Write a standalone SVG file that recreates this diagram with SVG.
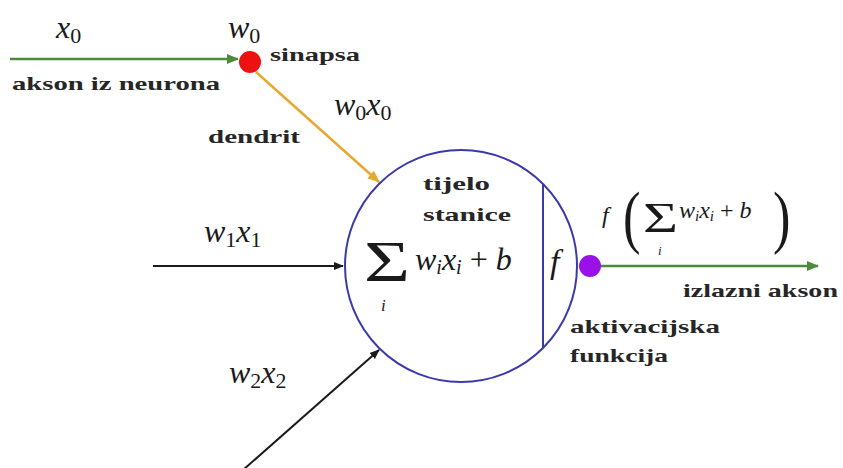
<svg xmlns="http://www.w3.org/2000/svg" width="843" height="468" viewBox="0 0 843 468">
<style>
.lbl{font-weight:bold;fill:#262626;font-size:19px}
.m{font-style:italic;fill:#1a1a1a}
.r{font-style:normal;fill:#1a1a1a}
.k{stroke:#1a1a1a;stroke-width:2;fill:none}
.g{stroke:#4a8a3a;stroke-width:2.5;fill:none}
.o{stroke:#e8a830;stroke-width:2.5;fill:none}
</style>
<defs>
<marker id="ak" viewBox="0 0 10 10" refX="9" refY="5" markerWidth="5" markerHeight="5" orient="auto" markerUnits="strokeWidth"><path d="M0,1 L10,5 L0,9 z" fill="#1a1a1a"/></marker>
<marker id="ag" viewBox="0 0 10 10" refX="9" refY="5" markerWidth="5" markerHeight="5" orient="auto" markerUnits="strokeWidth"><path d="M0,1 L10,5 L0,9 z" fill="#4a8a3a"/></marker>
<marker id="ao" viewBox="0 0 10 10" refX="9" refY="5" markerWidth="5" markerHeight="5" orient="auto" markerUnits="strokeWidth"><path d="M0,1 L10,5 L0,9 z" fill="#e8a830"/></marker>
</defs>
<rect width="843" height="468" fill="#ffffff"/>
<g id="connectors">
<line class="g" x1="10" y1="59" x2="238" y2="59" marker-end="url(#ag)"/>
<line class="o" x1="256" y1="72" x2="379" y2="182" marker-end="url(#ao)"/>
<line class="k" x1="153" y1="266" x2="343" y2="266" marker-end="url(#ak)"/>
<line class="k" x1="243" y1="470" x2="379" y2="350" marker-end="url(#ak)"/>
<line class="g" x1="600" y1="266" x2="818" y2="266" marker-end="url(#ag)"/>
</g>
<g font-family="'Liberation Serif', 'DejaVu Serif', serif">
<g id="synapse">
<circle cx="250" cy="62" r="11" fill="#ee1111"/>
<text class="m" x="228" y="38" font-size="32">w<tspan class="r" font-size="22" dy="5">0</tspan></text>
<text class="lbl" x="270" y="61" textLength="90" lengthAdjust="spacingAndGlyphs">sinapsa</text>
</g>
<g id="input0">
<text class="m" x="56" y="38" font-size="32">x<tspan class="r" font-size="22" dy="5">0</tspan></text>
<text class="lbl" x="12" y="90" textLength="208" lengthAdjust="spacingAndGlyphs">akson iz neurona</text>
</g>
<g id="dendrite">
<text class="m" x="334" y="115" font-size="32">w<tspan class="r" font-size="22" dy="5">0</tspan><tspan dy="-5">x</tspan><tspan class="r" font-size="22" dy="5">0</tspan></text>
<text class="lbl" x="208" y="143" textLength="92" lengthAdjust="spacingAndGlyphs">dendrit</text>
</g>
<g id="input1">
<text class="m" x="204" y="242" font-size="32">w<tspan class="r" font-size="22" dy="5">1</tspan><tspan dy="-5">x</tspan><tspan class="r" font-size="22" dy="5">1</tspan></text>
</g>
<g id="input2">
<text class="m" x="229" y="383" font-size="32">w<tspan class="r" font-size="22" dy="5">2</tspan><tspan dy="-5">x</tspan><tspan class="r" font-size="22" dy="5">2</tspan></text>
</g>
<g id="cell-body">
<circle cx="461" cy="266" r="116" fill="none" stroke="#3a3aaa" stroke-width="2"/>
<line x1="543" y1="184" x2="543" y2="348" stroke="#3a3aaa" stroke-width="2"/>
<text class="lbl" x="423" y="190" textLength="67" lengthAdjust="spacingAndGlyphs">tijelo</text>
<text class="lbl" x="423" y="221" textLength="88" lengthAdjust="spacingAndGlyphs">stanice</text>
<text class="r" x="364" y="281" font-size="56" textLength="46" lengthAdjust="spacingAndGlyphs">Σ</text>
<text class="m" x="381" y="311" font-size="17">i</text>
<text class="m" x="415" y="270" font-size="32">w<tspan font-size="20" dy="4">i</tspan><tspan dy="-4">x</tspan><tspan font-size="20" dy="4">i</tspan><tspan class="r" dy="-4"> + </tspan>b</text>
<text class="m" x="550" y="273" font-size="34">f</text>
</g>
<g id="activation">
<circle cx="590" cy="266" r="11" fill="#9a10e8"/>
<text class="lbl" x="570" y="333" textLength="150" lengthAdjust="spacingAndGlyphs">aktivacijska</text>
<text class="lbl" x="570" y="362" textLength="98" lengthAdjust="spacingAndGlyphs">funkcija</text>
</g>
<g id="output">
<text class="m" x="602" y="223" font-size="24">f</text>
<text class="r" font-size="70" transform="translate(623,240) scale(0.75,1)">(</text>
<text class="r" x="643" y="232" font-size="42" textLength="35" lengthAdjust="spacingAndGlyphs">Σ</text>
<text class="m" x="658" y="255" font-size="13">i</text>
<text class="m" x="679" y="218" font-size="24">w<tspan font-size="15" dy="3">i</tspan><tspan dy="-3">x</tspan><tspan font-size="15" dy="3">i</tspan><tspan class="r" dy="-3"> + </tspan>b</text>
<text class="r" font-size="70" transform="translate(773,240) scale(0.75,1)">)</text>
<text class="lbl" x="683" y="297" textLength="155" lengthAdjust="spacingAndGlyphs">izlazni akson</text>
</g>
</g>
</svg>
